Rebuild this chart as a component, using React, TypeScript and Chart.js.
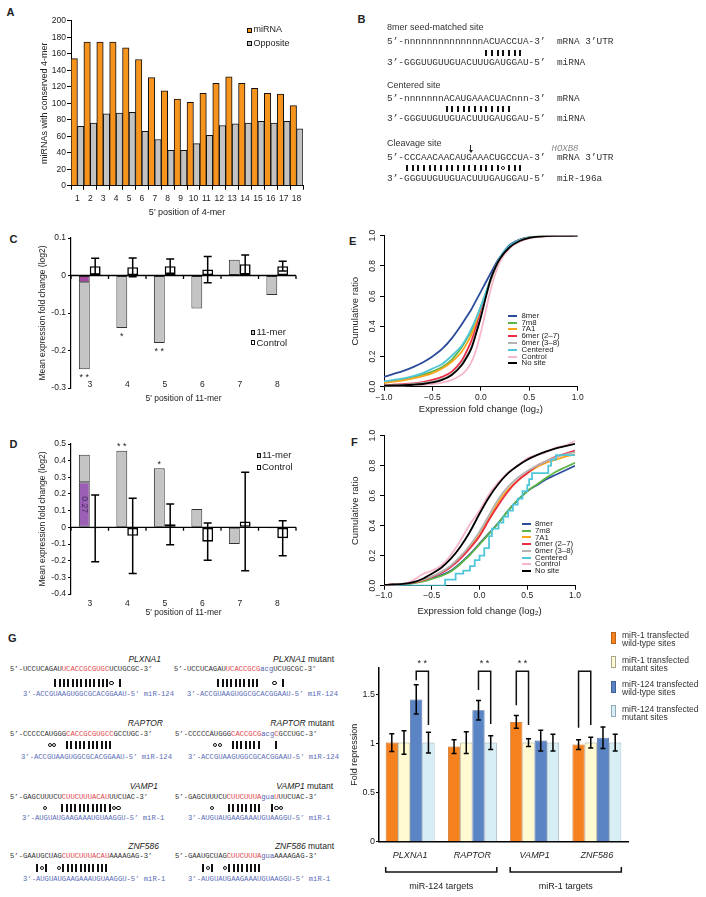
import React, { useEffect, useRef } from 'react';
import { Chart, registerables } from 'chart.js';

Chart.register(...registerables);

const SANS = '"Liberation Sans", Arial, Helvetica, sans-serif';
const MONO = '"Liberation Mono", "Courier New", monospace';
const INK = '#222';
Chart.defaults.font.family = SANS;
Chart.defaults.color = INK;

// ================= DATA =================
// Panel A
const positionsA = ['1', '2', '3', '4', '5', '6', '7', '8', '9', '10', '11', '12', '13', '14', '15', '16', '17', '18'];
const seriesA = ['miRNA', 'Opposite'];
const miRNACounts = [154, 174, 174, 174, 167, 153, 131, 115, 105, 101, 112, 124, 132, 124, 118, 112, 111, 97];
const oppositeCounts = [72, 76, 87, 88, 89, 66, 56, 43, 43, 51, 61, 73, 75, 76, 78, 76, 78, 69];

// Panels C & D
const positions11 = ['3', '4', '5', '6', '7', '8'];
const seriesCD = ['11-mer', 'Control'];
const elevenMerC = [-0.25, -0.14, -0.18, -0.088, 0.042, -0.052];
const highlightC = [-0.018, null, null, null, null, null];
const controlC = [0.025, 0.022, 0.025, 0.016, 0.03, 0.025];
const controlErrC = [0.021, 0.025, 0.019, 0.035, 0.025, 0.013];
const starsC = ['* *', '*', '* *', '', '', ''];

const elevenMerD = [0.435, 0.46, 0.355, 0.11, -0.1, -0.006];
const highlightD = [0.27, null, null, null, null, null];
const highlightLabelD = ['0.27', '', '', '', '', ''];
const controlD = [-0.006, -0.051, 0.018, -0.086, 0.035, -0.065];
const controlErrD = [0.2, 0.226, 0.122, 0.112, 0.295, 0.105];
const starsD = ['', '* *', '*', '', '', ''];

// Panels E & F (cumulative distributions)
const cdfNames = ['8mer', '7m8', '7A1', '6mer (2–7)', '6mer (3–8)', 'Centered', 'Control', 'No site'];
const cdfColors = ['#2B4C9B', '#5CB646', '#FBA51A', '#EC2C44', '#B3B3B3', '#4FC6D9', '#F6B7C9', '#000000'];

const xsE = [-1, -0.9, -0.8, -0.7, -0.6, -0.5, -0.4, -0.3, -0.2, -0.15, -0.1, -0.05, 0, 0.05, 0.1, 0.15, 0.2, 0.3, 0.4, 0.5, 0.6, 0.8, 1.0];
const e8mer = [0.065, 0.085, 0.105, 0.13, 0.16, 0.2, 0.25, 0.32, 0.41, 0.46, 0.51, 0.57, 0.63, 0.69, 0.75, 0.81, 0.86, 0.94, 0.975, 0.99, 0.996, 0.999, 1];
const e7m8 = [0.03, 0.04, 0.05, 0.065, 0.08, 0.1, 0.13, 0.18, 0.26, 0.31, 0.37, 0.45, 0.53, 0.62, 0.71, 0.79, 0.85, 0.93, 0.97, 0.988, 0.995, 0.999, 1];
const e7A1 = [0.025, 0.033, 0.042, 0.055, 0.07, 0.09, 0.12, 0.165, 0.23, 0.28, 0.34, 0.42, 0.5, 0.6, 0.7, 0.78, 0.85, 0.93, 0.97, 0.988, 0.995, 0.999, 1];
const e6mer27 = [0.01, 0.013, 0.017, 0.022, 0.03, 0.045, 0.065, 0.1, 0.17, 0.23, 0.3, 0.39, 0.49, 0.6, 0.71, 0.79, 0.85, 0.925, 0.965, 0.985, 0.994, 0.999, 1];
const e6mer38 = [0.008, 0.01, 0.013, 0.018, 0.025, 0.035, 0.052, 0.085, 0.15, 0.2, 0.26, 0.36, 0.47, 0.59, 0.7, 0.79, 0.85, 0.925, 0.965, 0.985, 0.994, 0.999, 1];
const eCentered = [0.035, 0.045, 0.055, 0.07, 0.09, 0.12, 0.15, 0.205, 0.27, 0.32, 0.38, 0.45, 0.53, 0.62, 0.71, 0.79, 0.86, 0.935, 0.97, 0.988, 0.995, 0.999, 1];
const eControl = [0.005, 0.006, 0.008, 0.01, 0.013, 0.018, 0.027, 0.045, 0.08, 0.11, 0.16, 0.24, 0.36, 0.5, 0.64, 0.75, 0.83, 0.92, 0.96, 0.982, 0.992, 0.998, 1];
const eNoSite = [0.006, 0.008, 0.01, 0.013, 0.018, 0.028, 0.045, 0.078, 0.14, 0.19, 0.25, 0.35, 0.46, 0.59, 0.71, 0.79, 0.85, 0.925, 0.965, 0.985, 0.994, 0.999, 1];

const xsF = [-1, -0.9, -0.8, -0.7, -0.6, -0.5, -0.4, -0.3, -0.2, -0.1, 0, 0.1, 0.2, 0.3, 0.4, 0.5, 0.6, 0.7, 0.8, 0.9, 1.0];
const f8mer = [0.005, 0.008, 0.012, 0.018, 0.03, 0.05, 0.07, 0.1, 0.15, 0.21, 0.28, 0.35, 0.42, 0.5, 0.57, 0.63, 0.67, 0.71, 0.74, 0.77, 0.8];
const f7m8 = [0.004, 0.007, 0.01, 0.016, 0.027, 0.045, 0.065, 0.095, 0.145, 0.205, 0.275, 0.345, 0.42, 0.5, 0.57, 0.63, 0.675, 0.72, 0.76, 0.79, 0.82];
const f7A1 = [0.005, 0.008, 0.012, 0.02, 0.035, 0.06, 0.09, 0.13, 0.19, 0.26, 0.34, 0.45, 0.56, 0.64, 0.7, 0.75, 0.79, 0.82, 0.84, 0.86, 0.875];
const f6mer27 = [0.005, 0.008, 0.012, 0.02, 0.035, 0.058, 0.085, 0.125, 0.18, 0.25, 0.33, 0.44, 0.54, 0.63, 0.7, 0.75, 0.8, 0.83, 0.86, 0.88, 0.9];
const f6mer38 = [0.005, 0.008, 0.013, 0.022, 0.038, 0.062, 0.092, 0.135, 0.195, 0.27, 0.36, 0.47, 0.58, 0.66, 0.72, 0.765, 0.8, 0.83, 0.855, 0.875, 0.89];
const fControl = [0, 0.005, 0.012, 0.035, 0.075, 0.1, 0.135, 0.205, 0.3, 0.41, 0.5, 0.61, 0.69, 0.755, 0.8, 0.85, 0.87, 0.89, 0.92, 0.935, 0.965];
const fNoSite = [0.005, 0.008, 0.012, 0.022, 0.045, 0.08, 0.12, 0.18, 0.26, 0.36, 0.48, 0.59, 0.68, 0.75, 0.8, 0.84, 0.87, 0.895, 0.915, 0.93, 0.945];
const centeredFx = [-1.0, -0.36, -0.25, -0.17, -0.1, -0.05, 0.0, 0.05, 0.1, 0.13, 0.2, 0.25, 0.3, 0.35, 0.4, 0.45, 0.5, 0.52, 0.55, 0.72, 0.75, 0.8, 1.0];
const centeredFy = [0, 0.04, 0.08, 0.1, 0.13, 0.17, 0.2, 0.25, 0.33, 0.38, 0.42, 0.46, 0.5, 0.54, 0.58, 0.63, 0.67, 0.71, 0.75, 0.8, 0.84, 0.87, 0.87];

// Panel G (bar chart)
const genesG = ['PLXNA1', 'RAPTOR', 'VAMP1', 'ZNF586'];
const seriesG = ['miR-1 transfected\nwild-type sites', 'miR-1 transfected\nmutant sites', 'miR-124 transfected\nwild-type sites', 'miR-124 transfected\nmutant sites'];
const mir1WT = [1.01, 0.97, 1.22, 0.99];
const mir1WTErr = [0.09, 0.07, 0.065, 0.05];
const mir1Mut = [1.01, 1.01, 1.01, 1.01];
const mir1MutErr = [0.12, 0.11, 0.04, 0.055];
const mir124WT = [1.45, 1.34, 1.03, 1.06];
const mir124WTErr = [0.15, 0.1, 0.105, 0.11];
const mir124Mut = [1.01, 1.01, 1.01, 1.01];
const mir124MutErr = [0.105, 0.07, 0.085, 0.085];
const repressionTicks = [0, 0.5, 1, 1.5];
const sigFromG = [2, 2, 0, 0];
const sigToG = [3, 3, 1, 1];
const sigLeftEndG = [1.645, 1.545, 1.39, 1.16];
const sigRightEndG = [1.19, 1.2, 1.19, 1.19];
const sigTopG = [1.736, 1.736, 1.736, 1.736];
const sigLabelsG = ['* *', '* *', '* *', ''];
const groupLabelsG = ['miR-124 targets', 'miR-1 targets'];
const groupFromG = [0, 2];
const groupToG = [1, 3];

// Panel G sequences
const seqRowsG = [
  {
    gene: 'PLXNA1', mir: 'miR-124', mirSeq: '3’-ACCGUAAGUGGCGCACGGAAU-5’',
    wt: [['UCCUCAGAU', 'k'], ['UCACCGCGUGC', 'r'], ['UCUGCGC', 'k']],
    mut: [['UCCUCAGAU', 'k'], ['UCACCGCG', 'r'], ['acg', 'b'], ['UCUGCGC', 'k']],
    pairWT: '|||||||||||||o |', pairMut: '||||||||||   o |',
  },
  {
    gene: 'RAPTOR', mir: 'miR-124', mirSeq: '3’-ACCGUAAGUGGCGCACGGAAU-5’',
    wt: [['CCCCCAUGGG', 'k'], ['CACCGCGUGCC', 'r'], ['GCCUGC', 'k']],
    mut: [['CCCCCAUGGG', 'k'], ['CACCGCG', 'r'], ['acg', 'b'], ['C', 'r'], ['GCCUGC', 'k']],
    pairWT: 'oo  |||||||||||', pairMut: 'oo  |||||||   |',
  },
  {
    gene: 'VAMP1', mir: 'miR-1', mirSeq: '3’-AUGUAUGAAGAAAUGUAAGGU-5’',
    wt: [['GAGCUUUCU', 'k'], ['CUUCUUUACAU', 'r'], ['UUCUAC', 'k']],
    mut: [['GAGCUUUCU', 'k'], ['CUUCUUUA', 'r'], ['gua', 'b'], ['U', 'r'], ['UUCUAC', 'k']],
    pairWT: 'o   ||||||||||||oo', pairMut: 'o   ||||||||  |oo',
  },
  {
    gene: 'ZNF586', mir: 'miR-1', mirSeq: '3’-AUGUAUGAAGAAAUGUAAGGU-5’',
    wt: [['GAAUGCUAG', 'k'], ['CUUCUUUACAU', 'r'], ['AAAAGAG', 'k']],
    mut: [['GAAUGCUAG', 'k'], ['CUUCUUUA', 'r'], ['gua', 'b'], ['AAAAGAG', 'k']],
    pairWT: '|o|  o|||||||||||', pairMut: '|o|  o||||||||',
  },
];

// ================= HELPERS =================
const fmt0 = (v: number) => (Math.abs(v) < 1e-9 ? '0' : Number(v).toFixed(1));
const fmtR = (v: number) => {
  const s = Math.abs(v).toFixed(1);
  return v < -1e-9 ? '−' + s : s;
};

const errorBars = (id: string, dsIndex: number, errs: number[], lw: number, cap: number) => ({
  id,
  afterDatasetsDraw(chart: any) {
    const meta = chart.getDatasetMeta(dsIndex);
    const y = chart.scales.y;
    const ctx = chart.ctx;
    ctx.save();
    ctx.strokeStyle = '#000';
    ctx.lineWidth = lw;
    meta.data.forEach((bar: any, i: number) => {
      const v = chart.data.datasets[dsIndex].data[i];
      const e = errs[i];
      if (v == null || e == null) return;
      const top = y.getPixelForValue(v + e);
      const bot = y.getPixelForValue(v - e);
      ctx.beginPath();
      ctx.moveTo(bar.x, top);
      ctx.lineTo(bar.x, bot);
      ctx.moveTo(bar.x - cap, top);
      ctx.lineTo(bar.x + cap, top);
      ctx.moveTo(bar.x - cap, bot);
      ctx.lineTo(bar.x + cap, bot);
      ctx.stroke();
    });
    ctx.restore();
  },
});

const zeroAxis = {
  id: 'zeroAxis',
  afterDatasetsDraw(chart: any) {
    const { ctx, chartArea, scales } = chart;
    const py = scales.y.getPixelForValue(0);
    ctx.save();
    ctx.strokeStyle = '#000';
    ctx.lineWidth = 1.3;
    ctx.beginPath();
    ctx.moveTo(chartArea.left, py);
    ctx.lineTo(chartArea.right, py);
    const n = chart.data.labels.length;
    for (let i = 0; i <= n; i++) {
      const px = scales.x.getPixelForValue(i - 0.5);
      ctx.moveTo(px, py);
      ctx.lineTo(px, py + 3.5);
    }
    ctx.stroke();
    ctx.restore();
  },
};

// category labels that sit just above the bottom of the plot (Excel "low" labels)
const lowCategoryLabels = (offset: number) => ({
  id: 'lowLabels',
  afterDraw(chart: any) {
    const { ctx, chartArea, scales } = chart;
    ctx.save();
    ctx.font = `8.5px ${SANS}`;
    ctx.fillStyle = INK;
    ctx.textAlign = 'center';
    ctx.textBaseline = 'middle';
    chart.data.labels.forEach((lab: string, i: number) => {
      ctx.fillText(lab, scales.x.getPixelForValue(i), chartArea.bottom + offset);
    });
    ctx.restore();
  },
});

const starMarks = (dsIndex: number, values: number[], stars: string[]) => ({
  id: 'stars',
  afterDatasetsDraw(chart: any) {
    const meta = chart.getDatasetMeta(dsIndex);
    const y = chart.scales.y;
    const ctx = chart.ctx;
    ctx.save();
    ctx.font = `9px ${SANS}`;
    ctx.fillStyle = INK;
    ctx.textAlign = 'center';
    ctx.textBaseline = 'middle';
    stars.forEach((s, i) => {
      if (!s) return;
      const v = values[i];
      const py = y.getPixelForValue(v) + (v < 0 ? 8.5 : -4);
      ctx.fillText(s, meta.data[i].x, py);
    });
    ctx.restore();
  },
});

const highlightLabel = (dsIndex: number, labels: string[]) => ({
  id: 'hlLabel',
  afterDatasetsDraw(chart: any) {
    const meta = chart.getDatasetMeta(dsIndex);
    const ctx = chart.ctx;
    labels.forEach((t, i) => {
      if (!t) return;
      const el: any = meta.data[i];
      const cy = (el.y + el.base) / 2;
      ctx.save();
      ctx.translate(el.x, cy);
      ctx.rotate(Math.PI / 2);
      ctx.font = `8.5px ${SANS}`;
      ctx.fillStyle = '#4a2f63';
      ctx.textAlign = 'center';
      ctx.textBaseline = 'middle';
      ctx.fillText(t, 0, 0);
      ctx.restore();
    });
  },
});

const sigBrackets = {
  id: 'sig',
  afterDatasetsDraw(chart: any) {
    const { ctx, scales } = chart;
    const y = scales.y;
    ctx.save();
    ctx.strokeStyle = '#111';
    ctx.lineWidth = 1.5;
    ctx.fillStyle = INK;
    ctx.font = `9px ${SANS}`;
    ctx.textAlign = 'center';
    ctx.textBaseline = 'middle';
    sigFromG.forEach((a, i) => {
      const b = sigToG[i];
      const xa = chart.getDatasetMeta(a).data[i].x;
      const xb = chart.getDatasetMeta(b).data[i].x;
      const yt = y.getPixelForValue(sigTopG[i]);
      ctx.beginPath();
      ctx.moveTo(xa, y.getPixelForValue(sigLeftEndG[i]));
      ctx.lineTo(xa, yt);
      ctx.lineTo(xb, yt);
      ctx.lineTo(xb, y.getPixelForValue(sigRightEndG[i]));
      ctx.stroke();
      if (sigLabelsG[i]) ctx.fillText(sigLabelsG[i], (xa + xb) / 2, yt - 8);
    });
    ctx.restore();
  },
};

const groupBrackets = {
  id: 'groups',
  afterDraw(chart: any) {
    const { ctx, chartArea } = chart;
    const m0 = chart.getDatasetMeta(0);
    const m3 = chart.getDatasetMeta(3);
    ctx.save();
    ctx.strokeStyle = '#111';
    ctx.lineWidth = 1.5;
    ctx.fillStyle = INK;
    ctx.font = `9px ${SANS}`;
    ctx.textAlign = 'center';
    ctx.textBaseline = 'middle';
    groupFromG.forEach((a, g) => {
      const e0: any = m0.data[a];
      const e3: any = m3.data[groupToG[g]];
      const xl = e0.x - e0.width / 2;
      const xr = e3.x + e3.width / 2;
      const yb = chartArea.bottom + 30.3;
      ctx.beginPath();
      ctx.moveTo(xl, yb - 5);
      ctx.lineTo(xl, yb);
      ctx.lineTo(xr, yb);
      ctx.lineTo(xr, yb - 5);
      ctx.stroke();
      ctx.fillText(groupLabelsG[g], (xl + xr) / 2, chartArea.bottom + 45.3);
    });
    ctx.restore();
  },
};

const baseOpts = {
  responsive: false,
  animation: false,
  devicePixelRatio: 1,
  plugins: { legend: { display: false }, tooltip: { enabled: false } },
};

// ================= CONFIGS =================
const makeA = () => ({
  type: 'bar',
  data: {
    labels: positionsA,
    datasets: [
      { label: seriesA[0], data: miRNACounts, backgroundColor: '#F7941E', borderColor: '#111', borderWidth: 1 },
      { label: seriesA[1], data: oppositeCounts, backgroundColor: '#C3C3C3', borderColor: '#111', borderWidth: 1 },
    ],
  },
  options: {
    ...baseOpts,
    layout: { padding: { left: 39.6, top: 20.7, right: 27, bottom: 6.6 } },
    datasets: { bar: { categoryPercentage: 1, barPercentage: 1 } },
    scales: {
      x: {
        grid: { drawOnChartArea: false, offset: true, tickLength: 4, color: '#000' },
        border: { color: '#000' },
        ticks: { font: { size: 8.5 }, padding: 4.2, color: INK, autoSkip: false, maxRotation: 0, minRotation: 0 },
        title: { display: true, text: "5' position of 4-mer", font: { size: 9 }, padding: 0, color: INK },
        afterFit: (s: any) => { s.height = 32.7; },
      },
      y: {
        min: 0, max: 200,
        ticks: { stepSize: 20, font: { size: 8.5 }, padding: 1, color: INK },
        grid: { drawOnChartArea: false, tickLength: 4, color: '#000' },
        border: { color: '#000' },
        title: { display: true, text: 'miRNAs with conserved 4-mer', font: { size: 9 }, padding: 0, color: INK },
        afterFit: (s: any) => { s.width = 31.4; },
      },
    },
  },
});

const makeCD = (eleven: number[], highlight: any[], control: number[], err: number[], stars: string[], hlLabels: string[] | null, cfg: any) => ({
  type: 'bar',
  data: {
    labels: positions11,
    datasets: [
      { label: seriesCD[0] + ' (part)', data: highlight, stack: 'm', backgroundColor: cfg.hlColor, borderColor: '#333', borderWidth: 1, borderSkipped: false },
      { label: seriesCD[0], data: eleven.map((v, i) => v - (highlight[i] || 0)), stack: 'm', backgroundColor: '#C4C4C4', borderColor: '#333', borderWidth: 1, borderSkipped: false },
      { label: seriesCD[1], data: control, stack: 'c', backgroundColor: '#FFFFFF', borderColor: '#000', borderWidth: 1.6, borderSkipped: false },
    ],
  },
  options: {
    ...baseOpts,
    layout: { padding: { left: 37.9, top: cfg.padTop, right: 34, bottom: cfg.padBottom } },
    datasets: { bar: { categoryPercentage: 0.58, barPercentage: 1 } },
    scales: {
      x: {
        stacked: true,
        grid: { display: false, drawTicks: false, tickLength: 0 },
        border: { display: false },
        ticks: { display: cfg.lowLabels == null, font: { size: 8.5 }, padding: cfg.tickPad, color: INK, maxRotation: 0 },
        title: { display: true, text: "5' position of 11-mer", font: { size: 8.5 }, padding: 0, color: INK },
        afterFit: (s: any) => { s.height = cfg.xHeight; },
      },
      y: {
        stacked: true,
        min: cfg.min, max: cfg.max,
        ticks: { stepSize: 0.1, callback: (v: any) => fmt0(v), font: { size: 8.5 }, padding: 2, color: INK },
        grid: { drawOnChartArea: false, tickLength: 3, color: '#000' },
        border: { color: '#000', width: 1.2 },
        title: { display: true, text: 'Mean expression fold change (log2)', font: { size: 8.5 }, padding: 0, color: INK },
        afterFit: (s: any) => { s.width = 33.1; },
      },
    },
  },
  plugins: [
    zeroAxis,
    errorBars('errCD', 2, err, 1.5, 4),
    starMarks(1, eleven, stars),
    ...(hlLabels ? [highlightLabel(0, hlLabels)] : []),
    ...(cfg.lowLabels != null ? [lowCategoryLabels(cfg.lowLabels)] : []),
  ],
});

const toPts = (xs: number[], ys: number[]) => xs.map((x, i) => ({ x, y: ys[i] }));

const makeCdf = (series: any[], stepped: boolean[], cfg: any) => ({
  type: 'line',
  data: {
    datasets: series.map((pts, i) => ({
      label: cdfNames[i],
      data: pts,
      borderColor: cdfColors[i],
      borderWidth: 1.8,
      pointRadius: 0,
      fill: false,
      stepped: stepped[i] ? 'before' : false,
      cubicInterpolationMode: 'monotone',
      order: cdfNames.length - 1 - i,
    })),
  },
  options: {
    ...baseOpts,
    layout: { padding: { left: 9.3, top: cfg.padTop, right: cfg.padRight, bottom: cfg.padBottom } },
    scales: {
      x: {
        type: 'linear', min: -1, max: 1,
        ticks: { stepSize: 0.5, callback: (v: any) => fmtR(v), font: { size: 8.5 }, padding: cfg.tickPad, color: INK, maxRotation: 0 },
        grid: { drawOnChartArea: false, tickLength: 4, color: '#000' },
        border: { color: '#000' },
        title: { display: true, text: 'Expression fold change (log₂)', font: { size: 9.5 }, padding: 0, color: INK },
        afterFit: (s: any) => { s.height = cfg.xHeight; },
      },
      y: {
        type: 'linear', min: 0, max: 1,
        ticks: { stepSize: 0.2, callback: (v: any) => Number(v).toFixed(1), minRotation: 90, maxRotation: 90, crossAlign: 'center', font: { size: 8.5 }, padding: 1.1, color: INK },
        grid: { drawOnChartArea: false, tickLength: 4, color: '#000' },
        border: { color: '#000' },
        title: { display: true, text: 'Cumulative ratio', font: { size: 9.5 }, padding: 0, color: INK },
        afterFit: (s: any) => { s.width = 34.7; },
      },
    },
  },
});

const makeE = () => makeCdf(
  [e8mer, e7m8, e7A1, e6mer27, e6mer38, eCentered, eControl, eNoSite].map((ys) => toPts(xsE, ys)),
  [false, false, false, false, false, false, false, false],
  { padTop: 7.7, padRight: 12.3, padBottom: 5.3, xHeight: 28, tickPad: 2.2 },
);

const makeF = () => makeCdf(
  [
    toPts(xsF, f8mer), toPts(xsF, f7m8), toPts(xsF, f7A1), toPts(xsF, f6mer27), toPts(xsF, f6mer38),
    toPts(centeredFx, centeredFy), toPts(xsF, fControl), toPts(xsF, fNoSite),
  ],
  [false, false, false, false, false, true, false, false],
  { padTop: 10.7, padRight: 15, padBottom: 4.6, xHeight: 31.7, tickPad: 1.2 },
);

const colorsG = ['#F5821F', '#FFFAD2', '#5B84C4', '#D7EEF5'];
const bordersG = ['#B8621A', '#A8A890', '#3E5F97', '#8FAAB5'];

const makeG = () => ({
  type: 'bar',
  data: {
    labels: genesG,
    datasets: [mir1WT, mir1Mut, mir124WT, mir124Mut].map((d, i) => ({
      label: seriesG[i].replace('\n', ' '),
      data: d,
      backgroundColor: colorsG[i],
      borderColor: bordersG[i],
      borderWidth: 0.8,
    })),
  },
  options: {
    ...baseOpts,
    layout: { padding: { left: 9.6, top: 23, right: 7, bottom: 25.3 } },
    datasets: { bar: { categoryPercentage: 0.785, barPercentage: 1 } },
    scales: {
      x: {
        grid: { display: false, drawTicks: false, tickLength: 0 },
        border: { color: '#000', width: 1.5 },
        ticks: { font: { size: 9, style: 'italic' }, padding: 7.9, color: INK, maxRotation: 0 },
        afterFit: (s: any) => { s.height = 30; },
      },
      y: {
        min: 0, max: 1.77,
        afterBuildTicks: (s: any) => { s.ticks = repressionTicks.map((v) => ({ value: v })); },
        ticks: { callback: (v: any) => String(v), font: { size: 9 }, padding: 1, color: INK },
        grid: { drawOnChartArea: false, tickLength: 3, color: '#000' },
        border: { color: '#000', width: 1.5 },
        title: { display: true, text: 'Fold repression', font: { size: 9 }, padding: 0, color: INK },
        afterFit: (s: any) => { s.width = 29.4; },
      },
    },
  },
  plugins: [
    errorBars('e0', 0, mir1WTErr, 1.5, 2.5),
    errorBars('e1', 1, mir1MutErr, 1.5, 2.5),
    errorBars('e2', 2, mir124WTErr, 1.5, 2.5),
    errorBars('e3', 3, mir124MutErr, 1.5, 2.5),
    sigBrackets,
    groupBrackets,
  ],
});

const makeC = () => makeCD(elevenMerC, highlightC, controlC, controlErrC, starsC, null,
  { hlColor: '#A8479F', min: -0.3, max: 0.1, padTop: 10, padBottom: 3.9, xHeight: 16.1, tickPad: 0, lowLabels: -3 });
const makeD = () => makeCD(elevenMerD, highlightD, controlD, controlErrD, starsD, highlightLabelD,
  { hlColor: '#9B5FB5', min: -0.4, max: 0.5, padTop: 9, padBottom: 7.2, xHeight: 23.8, tickPad: 4.9 });

// ================= COMPONENTS =================
function ChartCanvas({ left, top, width, height, make }: any) {
  const ref = useRef<HTMLCanvasElement | null>(null);
  useEffect(() => {
    if (!ref.current) return;
    const chart = new Chart(ref.current, make());
    return () => chart.destroy();
  }, []);
  return <canvas ref={ref} width={width} height={height} style={{ position: 'absolute', left, top, width, height }} />;
}

function T({ x, y, s = 9, children, anchor = 'start', bold = false, italic = false, color = INK, font = SANS }: any) {
  const tx = anchor === 'end' ? 'translateX(-100%)' : anchor === 'middle' ? 'translateX(-50%)' : undefined;
  return (
    <div style={{
      position: 'absolute', left: x, top: y - s * 0.62, fontFamily: font, fontSize: s,
      lineHeight: `${s * 1.2}px`, whiteSpace: 'pre', fontWeight: bold ? 700 : 400,
      fontStyle: italic ? 'italic' : 'normal', color, transform: tx,
    }}>{children}</div>
  );
}

const segColors: any = { k: '#333', r: '#E0464C', b: '#5562B0' };

function Seq({ x, y, s, segs }: any) {
  return (
    <div style={{ position: 'absolute', left: x, top: y - s * 0.62, fontFamily: MONO, fontSize: s, lineHeight: `${s * 1.2}px`, whiteSpace: 'pre' }}>
      {segs.map((sg: any, i: number) => <span key={i} style={{ color: segColors[sg[1]] || sg[1] }}>{sg[0]}</span>)}
    </div>
  );
}

function Pairs({ x0, y, cell, code, h, w, r }: any) {
  return (
    <>
      {code.split('').map((c: string, i: number) => {
        const cx = x0 + i * cell;
        if (c === '|') return <div key={i} style={{ position: 'absolute', left: cx - w / 2, top: y - h / 2, width: w, height: h, background: '#111' }} />;
        if (c === 'o') return <div key={i} style={{ position: 'absolute', left: cx - r, top: y - r, width: 2 * r, height: 2 * r, border: '1.2px solid #111', borderRadius: '50%', boxSizing: 'border-box' }} />;
        return null;
      })}
    </>
  );
}

function Box({ x, y, w, h, bg, border = '#111', bw = 0.8 }: any) {
  return <div style={{ position: 'absolute', left: x, top: y, width: w, height: h, background: bg, border: `${bw}px solid ${border}`, boxSizing: 'border-box' }} />;
}

function CdfLegend({ x0, y0, dy, tx }: any) {
  return (
    <>
      {cdfNames.map((n, i) => (
        <React.Fragment key={n}>
          <div style={{ position: 'absolute', left: x0, top: y0 + i * dy - 1, width: 9, height: 2, background: cdfColors[i] }} />
          <T x={tx} y={y0 + i * dy} s={7.8}>{n}</T>
        </React.Fragment>
      ))}
    </>
  );
}

function Arrow({ x, y }: any) {
  return (
    <>
      <div style={{ position: 'absolute', left: x - 0.6, top: y - 4, width: 1.2, height: 5, background: '#222' }} />
      <div style={{ position: 'absolute', left: x - 2, top: y + 1, width: 0, height: 0, borderLeft: '2px solid transparent', borderRight: '2px solid transparent', borderTop: '3px solid #222' }} />
    </>
  );
}

const BX = 387;
const BCELL = 5.67;
const BS = 9.45;

const rowYG = [
  { label: 659, seq: 669, pair: 683, mir: 694 },
  { label: 723, seq: 734, pair: 745, mir: 757 },
  { label: 786, seq: 797, pair: 808, mir: 818 },
  { label: 846, seq: 856, pair: 868, mir: 879 },
];
const wtMirX = [23, 21, 22, 23];
const mutMirX = [187, 188, 188, 188];
const wtPairX = [55.3, 49.7, 45, 37.3];
const mutPairX = [218.3, 215.3, 211.7, 203.3];
const wtLabelR = [161, 163, 158, 159];
const mutLabelR = [334, 334, 333, 334];
const GS = 7.2;
const GCELL = 4.32;

export default function App() {
  const mirBlue = '#5A6DB5';
  return (
    <div style={{ position: 'absolute', left: 0, top: 0, width: 706, height: 897, background: '#fff', overflow: 'hidden', fontFamily: SANS }}>
      {/* Panel letters */}
      <T x={6.5} y={12.7} s={11} bold>A</T>
      <T x={357.5} y={20} s={11} bold>B</T>
      <T x={9.5} y={240} s={11} bold>C</T>
      <T x={9.5} y={445} s={11} bold>D</T>
      <T x={349} y={242} s={11} bold>E</T>
      <T x={351} y={442.5} s={11} bold>F</T>
      <T x={8} y={639} s={11} bold>G</T>

      {/* Panel A */}
      <ChartCanvas left={0} top={0} width={330} height={225} make={makeA} />
      <Box x={247} y={28} w={5} h={5} bg="#F7941E" />
      <T x={253.5} y={30} s={9}>{seriesA[0]}</T>
      <Box x={247} y={41} w={5} h={5} bg="#C3C3C3" />
      <T x={253.5} y={43.3} s={9}>{seriesA[1]}</T>

      {/* Panel B */}
      <T x={BX} y={28} s={9} color="#333">8mer seed-matched site</T>
      <Seq x={BX} y={42} s={BS} segs={[['5’-nnnnnnnnnnnnnnACUACCUA-3’  mRNA 3’UTR', 'k']]} />
      <Pairs x0={BX + BCELL / 2} y={53} cell={BCELL} code={'                 |||||||'} h={6.5} w={2} r={1.9} />
      <Seq x={BX} y={63} s={BS} segs={[['3’-GGGUUGUUGUACUUUGAUGGAU-5’  miRNA', 'k']]} />
      <T x={BX} y={86} s={9} color="#333">Centered site</T>
      <Seq x={BX} y={99} s={BS} segs={[['5’-nnnnnnnACAUGAAACUACnnn-3’  mRNA', 'k']]} />
      <Pairs x0={BX + BCELL / 2} y={109} cell={BCELL} code={'          ||||||||||||'} h={6.5} w={2} r={1.9} />
      <Seq x={BX} y={119} s={BS} segs={[['3’-GGGUUGUUGUACUUUGAUGGAU-5’  miRNA', 'k']]} />
      <T x={BX} y={144} s={9} color="#333">Cleavage site</T>
      <Arrow x={470.5} y={149} />
      <T x={551.5} y={150} s={9} italic font={MONO} color="#888">HOXB8</T>
      <Seq x={BX} y={158} s={BS} segs={[['5’-CCCAACAACAUGAAACUGCCUA-3’  mRNA 3’UTR', 'k']]} />
      <Pairs x0={BX + BCELL / 2} y={168} cell={BCELL} code={'   |||||||||||||||||o|||'} h={6.5} w={2} r={1.9} />
      <Seq x={BX} y={179} s={BS} segs={[['3’-GGGUUGUUGUACUUUGAUGGAU-5’  miR-196a', 'k']]} />

      {/* Panel C */}
      <ChartCanvas left={0} top={228} width={330} height={180} make={makeC} />
      <Box x={250.7} y={330} w={4.8} h={4.8} bg="#C4C4C4" />
      <T x={256.5} y={332.3} s={9.5}>{seriesCD[0]}</T>
      <Box x={250.7} y={340.4} w={4.8} h={4.8} bg="#fff" bw={1} />
      <T x={256.5} y={342.7} s={9.5}>{seriesCD[1]}</T>

      {/* Panel D */}
      <ChartCanvas left={0} top={435} width={330} height={190} make={makeD} />
      <Box x={256.5} y={452.8} w={4.8} h={4.8} bg="#C4C4C4" />
      <T x={262} y={455} s={9.5}>{seriesCD[0]}</T>
      <Box x={256.5} y={465} w={4.8} h={4.8} bg="#fff" bw={1} />
      <T x={262} y={467.3} s={9.5}>{seriesCD[1]}</T>

      {/* Panel E */}
      <ChartCanvas left={340} top={228} width={250} height={192} make={makeE} />
      <CdfLegend x0={508.3} y0={315.7} dy={6.8} tx={521.5} />

      {/* Panel F */}
      <ChartCanvas left={340} top={425} width={250} height={197} make={makeF} />
      <CdfLegend x0={521.7} y0={524} dy={6.7} tx={535} />

      {/* Panel G sequences */}
      {seqRowsG.map((row, i) => (
        <React.Fragment key={row.gene}>
          <T x={wtLabelR[i]} y={rowYG[i].label} s={8.5} italic anchor="end">{row.gene}</T>
          <Seq x={10} y={rowYG[i].seq} s={GS} segs={[['5’-', 'k'], ...row.wt, ['-3’', 'k']]} />
          <Pairs x0={wtPairX[i]} y={rowYG[i].pair} cell={GCELL} code={row.pairWT} h={7.5} w={2} r={2.1} />
          <Seq x={wtMirX[i]} y={rowYG[i].mir} s={GS} segs={[[row.mirSeq + ' ' + row.mir, mirBlue]]} />

          <div style={{ position: 'absolute', left: mutLabelR[i], top: rowYG[i].label - 8.5 * 0.62, transform: 'translateX(-100%)', fontFamily: SANS, fontSize: 8.5, lineHeight: '10.2px', whiteSpace: 'pre', color: INK }}>
            <span style={{ fontStyle: 'italic' }}>{row.gene}</span> mutant
          </div>
          <Seq x={i === 0 ? 174 : 175} y={rowYG[i].seq} s={GS} segs={[['5’-', 'k'], ...row.mut, ['-3’', 'k']]} />
          <Pairs x0={mutPairX[i]} y={rowYG[i].pair} cell={GCELL} code={row.pairMut} h={7.5} w={2} r={2.1} />
          <Seq x={mutMirX[i]} y={rowYG[i].mir} s={GS} segs={[[row.mirSeq + ' ' + row.mir, mirBlue]]} />
        </React.Fragment>
      ))}

      {/* Panel G chart */}
      <ChartCanvas left={340} top={645} width={295} height={252} make={makeG} />
      {seriesG.map((name, i) => (
        <React.Fragment key={name}>
          <Box x={611} y={631.7 + i * 24.5} w={5} h={12.3} bg={colorsG[i]} border={bordersG[i]} />
          <div style={{ position: 'absolute', left: 622, top: 631 + i * 24.5, fontFamily: SANS, fontSize: 8.5, lineHeight: '8.3px', whiteSpace: 'pre', color: '#333' }}>{name}</div>
        </React.Fragment>
      ))}
    </div>
  );
}
